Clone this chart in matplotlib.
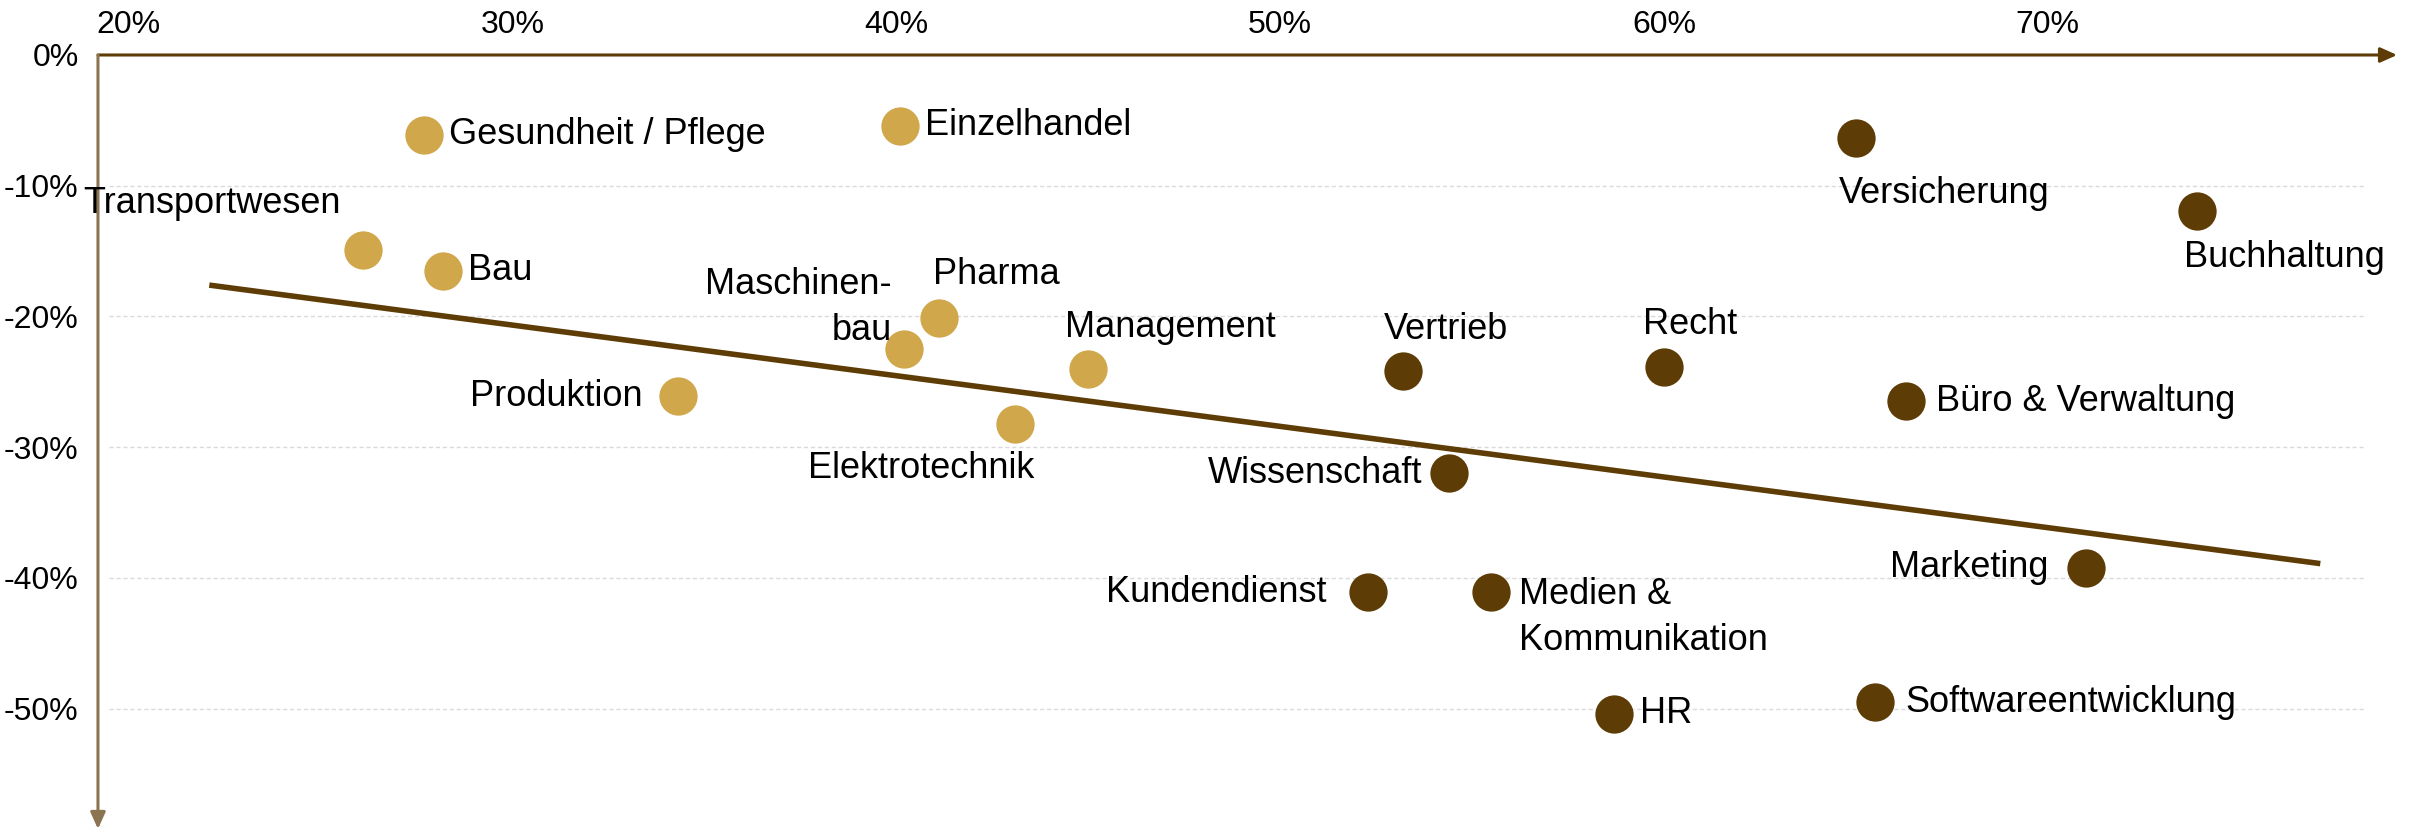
import matplotlib.pyplot as plt
from matplotlib.ticker import FuncFormatter

# share of tasks (x, %) vs. change (y, %) per occupational field
low_names = ["Transportwesen", "Bau", "Gesundheit / Pflege", "Einzelhandel",
             "Maschinen-\nbau", "Pharma", "Management", "Produktion", "Elektrotechnik"]
low_x = [26.1, 28.2, 27.7, 40.1, 40.2, 41.1, 45.0, 34.3, 43.1]
low_y = [-14.9, -16.5, -6.1, -5.4, -22.5, -20.1, -24.0, -26.1, -28.2]

high_names = ["Vertrieb", "Recht", "Versicherung", "Buchhaltung", "Büro & Verwaltung",
              "Wissenschaft", "Kundendienst", "Medien &\nKommunikation", "HR",
              "Softwareentwicklung", "Marketing"]
high_x = [53.2, 60.0, 65.0, 73.9, 66.3, 54.4, 52.3, 55.5, 58.7, 65.5, 71.0]
high_y = [-24.2, -23.9, -6.35, -11.9, -26.5, -32.0, -41.1, -41.1, -50.4, -49.5, -39.2]

trend_x = [22.1, 77.1]
trend_y = [-17.6, -38.9]

x_ticks = [20, 30, 40, 50, 60, 70]
y_ticks = [0, -10, -20, -30, -40, -50]

# label placement: (dx pt, dy pt, ha, va)
placement = {
    "Transportwesen": (-16, 33, "right", "center"),
    "Bau": (18, 0, "left", "center"),
    "Gesundheit / Pflege": (18, 0, "left", "center"),
    "Einzelhandel": (18, 0, "left", "center"),
    "Maschinen-\nbau": (-9, 30, "right", "center"),
    "Pharma": (-4, 31, "left", "center"),
    "Management": (-17, 30, "left", "center"),
    "Produktion": (-25, 0, "right", "center"),
    "Elektrotechnik": (14, -32, "right", "center"),
    "Vertrieb": (-14, 30, "left", "center"),
    "Recht": (-15, 31, "left", "center"),
    "Versicherung": (-12, -40, "left", "center"),
    "Buchhaltung": (-10, -34, "left", "center"),
    "Büro & Verwaltung": (22, 0, "left", "center"),
    "Wissenschaft": (-19, 0, "right", "center"),
    "Kundendienst": (-30, 0, "right", "center"),
    "Medien &\nKommunikation": (20, 11, "left", "top"),
    "HR": (19, 0, "left", "center"),
    "Softwareentwicklung": (22, 0, "left", "center"),
    "Marketing": (-27, 0, "right", "center"),
}

GOLD = "#D0A74B"
BROWN = "#5E3C06"
AXIS = "#8B7550"

plt.rcParams["font.family"] = ["Liberation Sans", "DejaVu Sans"]

fig = plt.figure(figsize=(24.13, 8.32), dpi=100)
ax = fig.add_axes([0.0406, 0.0036, 0.9528, 0.9303])
ax.set_xlim(19.2, 79.1)
ax.set_ylim(-59.2, 0)
for s in ax.spines.values():
    s.set_visible(False)

ax.hlines(y_ticks[1:], 19.5, 78.3, colors="#dadada", linestyles=(0, (3, 2)), lw=1.0, zorder=1)

# axes with arrows
ax.annotate("", xy=(1.0, 1.0), xytext=(0.0, 1.0), xycoords="axes fraction",
            arrowprops=dict(arrowstyle="-|>,head_length=1.0,head_width=0.45",
                            color=BROWN, lw=2.2, shrinkA=0, shrinkB=0),
            annotation_clip=False)
ax.annotate("", xy=(0.0, 0.0), xytext=(0.0, 1.0), xycoords="axes fraction",
            arrowprops=dict(arrowstyle="-|>,head_length=1.0,head_width=0.45",
                            color=AXIS, lw=2.2, shrinkA=0, shrinkB=0),
            annotation_clip=False)

ax.plot(trend_x, trend_y, color=BROWN, lw=4, zorder=2, solid_capstyle="butt")

ax.scatter(low_x, low_y, s=760, color=GOLD, zorder=3, linewidths=0)
ax.scatter(high_x, high_y, s=760, color=BROWN, zorder=3, linewidths=0)

for names, xs, ys in [(low_names, low_x, low_y), (high_names, high_x, high_y)]:
    for n, x, y in zip(names, xs, ys):
        dx, dy, ha, va = placement[n]
        ax.annotate(n, (x, y), xytext=(dx, dy), textcoords="offset points",
                    ha=ha, va=va, fontsize=26, color="black",
                    multialignment=ha, zorder=4, linespacing=1.4)

ax.xaxis.tick_top()
ax.set_xticks(x_ticks)
ax.set_yticks(y_ticks)
pct = FuncFormatter(lambda v, p: f"{v:.0f}%")
ax.xaxis.set_major_formatter(pct)
ax.yaxis.set_major_formatter(pct)
ax.tick_params(axis="both", length=0, labelsize=23)
ax.tick_params(axis="x", pad=11)
ax.tick_params(axis="y", pad=14)

fig.savefig("out.png", dpi=100)
plt.close(fig)
